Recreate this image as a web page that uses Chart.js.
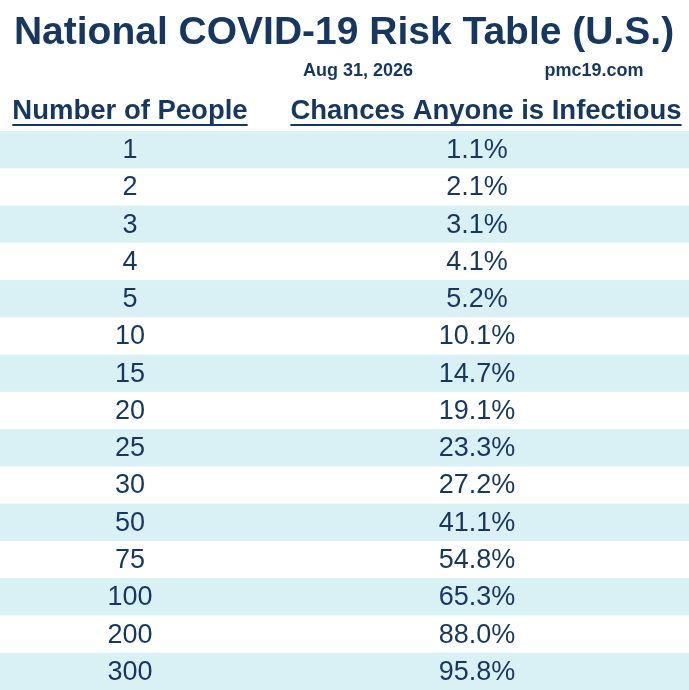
<!DOCTYPE html>
<html><head><meta charset="utf-8">
<script src="https://cdn.jsdelivr.net/npm/chart.js@4"></script>
<style>body{margin:0;background:#fff}canvas{display:block}</style>
</head><body>
<canvas id="c" width="689" height="690"></canvas>
<script>
const people = ['1','2','3','4','5','10','15','20','25','30','50','75','100','200','300'];
const chances = [1.1,2.1,3.1,4.1,5.2,10.1,14.7,19.1,23.3,27.2,41.1,54.8,65.3,88.0,95.8];
const titleText = 'National COVID-19 Risk Table (U.S.)';
const dateText = 'Aug 31, 2026';
const siteText = 'pmc19.com';
const colHeads = ['Number of People', 'Chances Anyone is Infectious'];

const navy = '#17375e';
const stripe = '#d9f0f4';

const tablePlugin = {
  id: 'table',
  beforeDatasetsDraw(chart) {
    const ctx = chart.ctx, y = chart.scales.y;
    const step = (y.bottom - y.top) / people.length;
    ctx.save();
    people.forEach((p, i) => {
      if (i % 2 === 0) {
        ctx.fillStyle = stripe;
        ctx.fillRect(0, y.getPixelForValue(i) - step / 2, chart.width, step);
      }
    });
    ctx.restore();
  },
  afterDraw(chart) {
    const ctx = chart.ctx, y = chart.scales.y;
    ctx.save();
    ctx.fillStyle = navy;
    ctx.textAlign = 'center';
    ctx.textBaseline = 'middle';
    ctx.font = 'bold 39px "Liberation Sans", Arial, sans-serif';
    ctx.fillText(titleText, 344, 33);
    ctx.font = 'bold 18px "Liberation Sans", Arial, sans-serif';
    ctx.fillText(dateText, 358, 71);
    ctx.fillText(siteText, 594, 71);
    ctx.font = 'bold 27.5px "Liberation Sans", Arial, sans-serif';
    const hx = [130, 486];
    colHeads.forEach((h, k) => {
      ctx.fillText(h, hx[k], 111);
      const w = ctx.measureText(h).width;
      ctx.fillRect(hx[k] - w / 2, 124, w, 2);
    });
    ctx.font = '27px "Liberation Sans", Arial, sans-serif';
    people.forEach((p, i) => {
      const py = y.getPixelForValue(i) + 1;
      ctx.fillText(p, 130, py);
      ctx.fillText(chances[i].toFixed(1) + '%', 477, py);
    });
    ctx.restore();
  }
};

new Chart(document.getElementById('c'), {
  type: 'bar',
  data: { labels: people, datasets: [{ data: chances, backgroundColor: 'rgba(0,0,0,0)' }] },
  options: {
    indexAxis: 'y', responsive: false, animation: false,
    layout: { padding: { top: 131, bottom: 0, left: 0, right: 0 } },
    plugins: { legend: { display: false }, tooltip: { enabled: false } },
    scales: {
      y: { display: false, offset: true },
      x: { display: false, min: 0, max: 100 }
    }
  },
  plugins: [tablePlugin]
});
</script>
</body></html>
